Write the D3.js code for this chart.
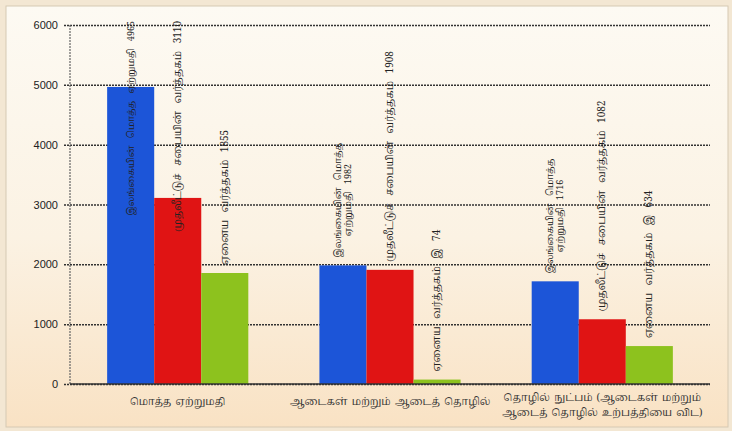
<!DOCTYPE html>
<html><head><meta charset="utf-8">
<script src="https://cdn.jsdelivr.net/npm/d3@7/dist/d3.min.js"></script>
<style>
html,body{margin:0;padding:0;background:#f3e7d3;}
svg{display:block;}
</style></head>
<body><svg id="c" width="732" height="431"></svg>
<script>
const categories = [
  ["மொத்த ஏற்றுமதி"],
  ["ஆடைகள் மற்றும் ஆடைத் தொழில்"],
  ["தொழில் நுட்பம் (ஆடைகள் மற்றும்", "ஆடைத் தொழில் உற்பத்தியை விட)"]
];
const seriesNames = ["இலங்கையின் மொத்த ஏற்றுமதி", "முதலீட்டுச் சபையின் வர்த்தகம்", "ஏனைய வர்த்தகம்"];
const totalExports = [4965, 1982, 1716];
const boiTrade = [3110, 1908, 1082];
const otherTrade = [1855, 74, 634];
const barLabels = [
  [["இலங்கையின் மொத்த ஏற்றுமதி 4965"], ["முதலீட்டுச் சபையின் வர்த்தகம் 3110"], ["ஏனைய வர்த்தகம் 1855"]],
  [["இலங்கையின் மொத்த", "ஏற்றுமதி 1982"], ["முதலீட்டுச் சபையின் வர்த்தகம் 1908"], ["ஏனைய வர்த்தகம் இ 74"]],
  [["இலங்கையின் மொத்த", "ஏற்றுமதி 1716"], ["முதலீட்டுச் சபையின் வர்த்தகம் 1082"], ["ஏனைய வர்த்தகம் இ 634"]]
];
const yTicks = [0, 1000, 2000, 3000, 4000, 5000, 6000];
const colors = ["#1c55d8", "#e01414", "#8dc21e"];

const svg = d3.select("#c");
const defs = svg.append("defs");
const g0 = defs.append("linearGradient").attr("id","bg").attr("x1",0).attr("y1",0).attr("x2",0).attr("y2",1);
g0.append("stop").attr("offset","0%").attr("stop-color","#fdfaf3");
g0.append("stop").attr("offset","55%").attr("stop-color","#fbf2e3");
g0.append("stop").attr("offset","100%").attr("stop-color","#f9e2c4");
svg.append("rect").attr("x",6).attr("y",6).attr("width",722).attr("height",421).attr("fill","url(#bg)")
  .attr("stroke","#d6c9b3").attr("stroke-width",1);

const m = {left:70, right:710, top:25, bottom:384};
const y = d3.scaleLinear().domain([0,6000]).range([m.bottom, m.top]);
const x0 = d3.scaleBand().domain(d3.range(categories.length)).range([m.left, m.right]).paddingInner(0.335).paddingOuter(0.175);
const x1 = d3.scaleBand().domain(d3.range(3)).range([0, x0.bandwidth()]);

// grid
const gy = svg.append("g").attr("transform",`translate(${m.left},0)`)
  .call(d3.axisLeft(y).tickValues(yTicks).tickSize(-(m.right-m.left)).tickPadding(12).tickFormat(d3.format("d")));
gy.select(".domain").remove();
gy.selectAll(".tick line").attr("stroke","#333").attr("stroke-width",1.5).attr("stroke-dasharray","2,1").attr("x1",-6);
gy.selectAll(".tick text").attr("font-family","Liberation Sans, Arial, sans-serif").attr("font-size",11).attr("fill","#222");
svg.append("line").attr("x1",m.left).attr("x2",m.left).attr("y1",m.top).attr("y2",m.bottom)
  .attr("stroke","#666").attr("stroke-width",1.2).attr("stroke-dasharray","2,1");

const series = [totalExports, boiTrade, otherTrade];
const groups = svg.append("g").selectAll("g").data(categories).join("g")
  .attr("transform",(d,i)=>`translate(${x0(i)},0)`);
groups.each(function(c,i){
  const g = d3.select(this);
  series.forEach((s,j)=>{
    g.append("rect").attr("x",x1(j)).attr("width",x1.bandwidth()).attr("y",y(s[i])).attr("height",y(0)-y(s[i])).attr("fill",colors[j]);
  });
});
// baseline
svg.append("line").attr("x1",m.left).attr("x2",m.right).attr("y1",y(0)).attr("y2",y(0)).attr("stroke","#333").attr("stroke-width",1.3);

const tamil = "'Noto Serif Tamil','Noto Sans Tamil','Lohit Tamil','Noto Sans',serif";
const labelSize = [9, 10, 10];
// bar labels
groups.each(function(c,i){
  const g = d3.select(this);
  series.forEach((s,j)=>{
    const lines = barLabels[i][j];
    const cx = x1(j) + x1.bandwidth()*0.5 + 3;
    const t = g.append("text").attr("font-family",tamil).attr("font-size",labelSize[j]).attr("word-spacing",5).attr("fill","#222")
      .attr("text-anchor","middle");
    lines.forEach((ln,k)=>{
      t.append("tspan").attr("x",0).attr("dy", k===0 ? (-(lines.length-1)*5) : 10).text(ln);
    });
    const len = d3.max(t.selectAll("tspan").nodes(), n=>n.getComputedTextLength());
    let bottom = y(s[i]) - 8;
    if (bottom - len < m.top - 4) bottom = m.top - 4 + len;
    const mid = bottom - len/2;
    t.attr("transform",`translate(${cx},${mid}) rotate(-90)`);
  });
});

// category labels
svg.append("g").selectAll("text").data(categories).join("text")
  .attr("font-family",tamil).attr("font-size",10).attr("word-spacing",1.5).attr("fill","#333").attr("text-anchor","middle")
  .attr("transform",(d,i)=>`translate(${x0(i)+x0.bandwidth()/2},${d.length>1?401:405})`)
  .each(function(d){
    d3.select(this).selectAll("tspan").data(d).join("tspan").attr("x",0).attr("dy",(dd,k)=>k?15:0).text(dd=>dd);
  });
</script></body></html>
